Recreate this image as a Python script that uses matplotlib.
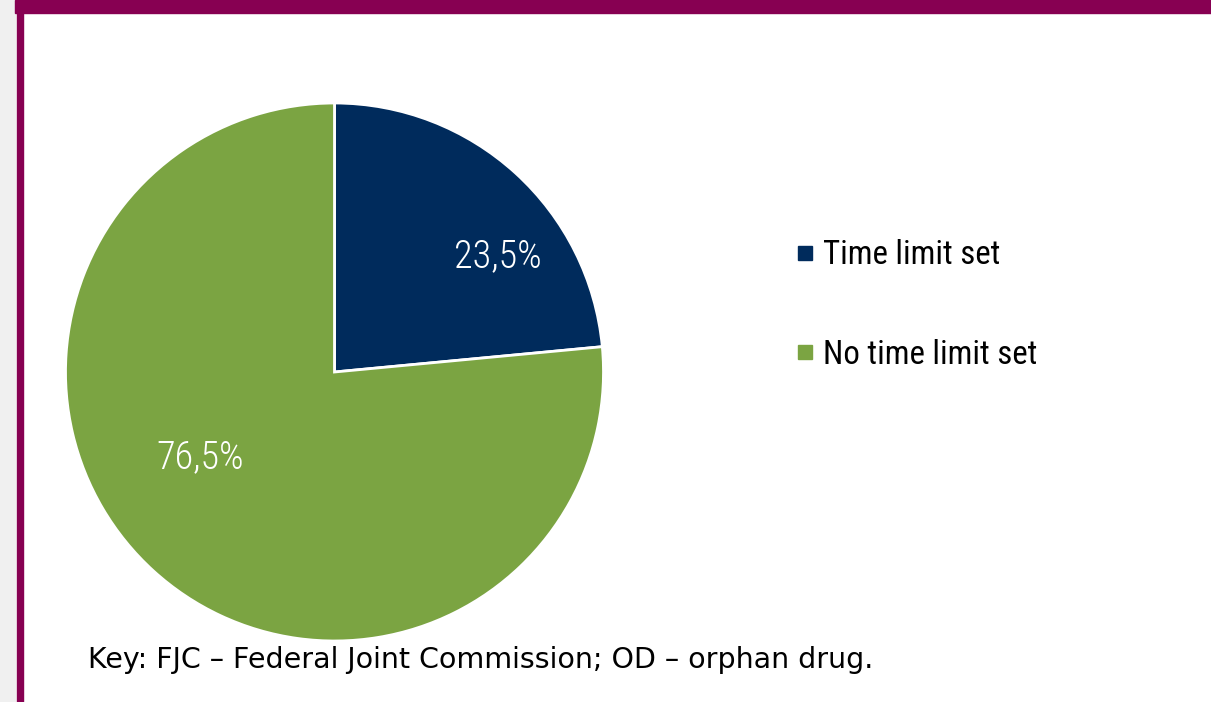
import matplotlib
matplotlib.use("Agg")
import matplotlib.pyplot as plt
from matplotlib.patches import Rectangle
from matplotlib.lines import Line2D

labels = ["Time limit set", "No time limit set"]
shares = [23.5, 76.5]
pct_text = ["23,5%", "76,5%"]
colors = ["#002B5C", "#7BA442"]
PURPLE = "#870052"

W, H = 1211, 702
fig = plt.figure(figsize=(W / 100, H / 100), dpi=100)
fig.patch.set_facecolor("white")

# frame decorations (gray margin, purple bars)
fig.patches.append(Rectangle((0, 0), 15 / W, 1, transform=fig.transFigure,
                             color="#F0F0F0", zorder=0))
fig.patches.append(Rectangle((15 / W, 1 - 13 / H), 1, 13 / H,
                             transform=fig.transFigure, color=PURPLE, zorder=1))
fig.patches.append(Rectangle((17 / W, 0), 6 / W, 1 - 13 / H,
                             transform=fig.transFigure, color=PURPLE, zorder=1))

narrow = ["Roboto Condensed", "Liberation Sans", "DejaVu Sans"]

ax = fig.add_axes([65.5 / W, 61 / H, 538 / W, 538 / H])
wedges, _ = ax.pie(shares, colors=colors, startangle=90, counterclock=False,
                   radius=1, wedgeprops=dict(edgecolor="white", linewidth=2))
ax.set_xlim(-1, 1)
ax.set_ylim(-1, 1)
ax.set_aspect("equal")
ax.axis("off")

pct_pos = [(0.606, 0.428), (-0.498, -0.316)]
for (x, y), t in zip(pct_pos, pct_text):
    ax.text(x, y, t, ha="center", va="center", color="white", fontsize=27.5,
            family=narrow, fontweight=300)

handles = [Line2D([], [], marker="s", linestyle="none", markersize=9.5,
                  markerfacecolor=c, markeredgecolor=c) for c in colors]
leg = fig.legend(handles, labels, loc="upper left",
                 bbox_to_anchor=(782 / W, 1 - 226 / H), frameon=False,
                 prop=dict(family=narrow, size=23.7), handlelength=0.6,
                 handletextpad=0.25, labelspacing=2.05, borderaxespad=0)

fig.text(88 / W, (H - 668) / H,
         "Key: FJC \u2013 Federal Joint Commission; OD \u2013 orphan drug.",
         fontsize=20.5, family=["DejaVu Sans"],
         va="baseline", ha="left")

fig.savefig("out.png", dpi=100)
